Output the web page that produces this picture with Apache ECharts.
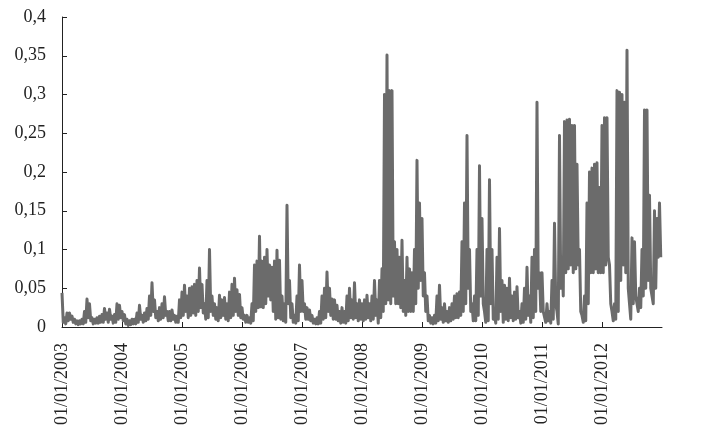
<!DOCTYPE html>
<html>
<head>
<meta charset="utf-8">
<script src="https://cdn.jsdelivr.net/npm/echarts@6/dist/echarts.min.js"></script>
<style>
  html, body { margin: 0; padding: 0; background: #fff; }
  #main { width: 703px; height: 436px; }
</style>
</head>
<body>
<div id="main"></div>
<script>
// half-monthly high / low readings, 24 per year
const years = [2003, 2004, 2005, 2006, 2007, 2008, 2009, 2010, 2011, 2012];

const hi2003 = [0.044, 0.012, 0.018, 0.018, 0.014, 0.01, 0.008, 0.008, 0.01, 0.02, 0.036, 0.03,
                0.012, 0.01, 0.012, 0.014, 0.016, 0.024, 0.018, 0.023, 0.014, 0.016, 0.03, 0.028];
const lo2003 = [0.006, 0.004, 0.008, 0.01, 0.006, 0.004, 0.003, 0.004, 0.004, 0.006, 0.012, 0.008,
                0.004, 0.005, 0.005, 0.006, 0.006, 0.01, 0.006, 0.01, 0.005, 0.006, 0.01, 0.012];
const hi2004 = [0.02, 0.016, 0.01, 0.008, 0.01, 0.01, 0.018, 0.028, 0.015, 0.018, 0.024, 0.04,
                0.057, 0.035, 0.02, 0.025, 0.03, 0.039, 0.02, 0.02, 0.022, 0.015, 0.014, 0.035];
const lo2004 = [0.008, 0.004, 0.002, 0.003, 0.004, 0.004, 0.006, 0.01, 0.006, 0.008, 0.01, 0.015,
                0.02, 0.012, 0.008, 0.01, 0.012, 0.015, 0.008, 0.008, 0.01, 0.006, 0.006, 0.012];
const hi2005 = [0.045, 0.054, 0.04, 0.05, 0.052, 0.055, 0.06, 0.076, 0.055, 0.03, 0.06, 0.1,
                0.04, 0.03, 0.025, 0.041, 0.035, 0.038, 0.03, 0.045, 0.055, 0.063, 0.048, 0.042];
const lo2005 = [0.015, 0.02, 0.012, 0.015, 0.018, 0.015, 0.02, 0.025, 0.018, 0.01, 0.012, 0.02,
                0.015, 0.01, 0.008, 0.012, 0.015, 0.01, 0.008, 0.012, 0.015, 0.02, 0.015, 0.012];
const hi2006 = [0.025, 0.015, 0.015, 0.012, 0.03, 0.08, 0.085, 0.117, 0.085, 0.09, 0.1, 0.08,
                0.077, 0.085, 0.099, 0.086, 0.04, 0.03, 0.157, 0.06, 0.03, 0.015, 0.04, 0.08];
const lo2006 = [0.01, 0.006, 0.006, 0.005, 0.008, 0.02, 0.025, 0.026, 0.025, 0.03, 0.04, 0.035,
                0.02, 0.01, 0.012, 0.01, 0.008, 0.006, 0.03, 0.012, 0.006, 0.005, 0.008, 0.02];
const hi2007 = [0.06, 0.03, 0.025, 0.022, 0.015, 0.01, 0.012, 0.02, 0.04, 0.05, 0.071, 0.05,
                0.036, 0.035, 0.028, 0.02, 0.025, 0.02, 0.04, 0.05, 0.035, 0.057, 0.03, 0.035];
const lo2007 = [0.02, 0.01, 0.01, 0.008, 0.005, 0.004, 0.004, 0.005, 0.01, 0.012, 0.02, 0.015,
                0.01, 0.01, 0.008, 0.005, 0.006, 0.005, 0.008, 0.012, 0.01, 0.012, 0.008, 0.01];
const hi2008 = [0.03, 0.035, 0.041, 0.03, 0.04, 0.06, 0.035, 0.06, 0.075, 0.3, 0.351, 0.305,
                0.305, 0.11, 0.1, 0.09, 0.112, 0.06, 0.09, 0.075, 0.07, 0.1, 0.215, 0.16];
const lo2008 = [0.008, 0.01, 0.012, 0.008, 0.01, 0.015, 0.005, 0.012, 0.02, 0.03, 0.035, 0.03,
                0.04, 0.03, 0.03, 0.025, 0.02, 0.015, 0.02, 0.02, 0.02, 0.03, 0.05, 0.06];
const hi2009 = [0.14, 0.07, 0.04, 0.015, 0.012, 0.015, 0.04, 0.054, 0.025, 0.03, 0.02, 0.025,
                0.03, 0.04, 0.043, 0.045, 0.11, 0.16, 0.247, 0.1, 0.03, 0.04, 0.1, 0.208];
const lo2009 = [0.04, 0.02, 0.008, 0.005, 0.004, 0.005, 0.008, 0.01, 0.006, 0.008, 0.006, 0.008,
                0.01, 0.012, 0.012, 0.015, 0.02, 0.03, 0.05, 0.02, 0.008, 0.008, 0.015, 0.04];
const hi2010 = [0.14, 0.02, 0.1, 0.19, 0.1, 0.015, 0.09, 0.127, 0.06, 0.054, 0.05, 0.063,
                0.04, 0.045, 0.052, 0.02, 0.03, 0.05, 0.077, 0.04, 0.09, 0.1, 0.29, 0.07];
const lo2010 = [0.03, 0.006, 0.008, 0.03, 0.01, 0.005, 0.01, 0.02, 0.006, 0.01, 0.008, 0.012,
                0.008, 0.01, 0.012, 0.005, 0.006, 0.01, 0.015, 0.006, 0.012, 0.02, 0.05, 0.02];
const hi2011 = [0.07, 0.02, 0.03, 0.02, 0.06, 0.134, 0.02, 0.247, 0.09, 0.265, 0.267, 0.268,
                0.26, 0.26, 0.21, 0.1, 0.015, 0.04, 0.16, 0.2, 0.205, 0.21, 0.212, 0.18];
const lo2011 = [0.02, 0.006, 0.008, 0.005, 0.01, 0.03, 0.004, 0.05, 0.04, 0.07, 0.075, 0.08,
                0.07, 0.075, 0.08, 0.02, 0.006, 0.008, 0.03, 0.07, 0.07, 0.075, 0.07, 0.07];
const hi2012 = [0.26, 0.27, 0.27, 0.08, 0.02, 0.03, 0.305, 0.303, 0.3, 0.29, 0.357, 0.05,
                0.115, 0.11, 0.04, 0.05, 0.1, 0.28, 0.28, 0.17, 0.05, 0.15, 0.14, 0.16];
const lo2012 = [0.07, 0.08, 0.09, 0.03, 0.008, 0.01, 0.02, 0.06, 0.08, 0.07, 0.05, 0.01,
                0.03, 0.04, 0.02, 0.025, 0.04, 0.05, 0.06, 0.05, 0.03, 0.05, 0.09, 0.09];

const highs = [hi2003, hi2004, hi2005, hi2006, hi2007, hi2008, hi2009, hi2010, hi2011, hi2012];
const lows = [lo2003, lo2004, lo2005, lo2006, lo2007, lo2008, lo2009, lo2010, lo2011, lo2012];

// the source series is daily, so the line swings between each period's high and low
const series = [];
years.forEach((y, k) => {
  highs[k].forEach((h, i) => {
    series.push([y + i / 24, h]);
    series.push([y + (i + 0.5) / 24, lows[k][i]]);
  });
});

const chart = echarts.init(document.getElementById('main'));
const font = '"Liberation Serif", "Times New Roman", serif';

chart.setOption({
  animation: false,
  backgroundColor: '#fff',
  grid: { left: 62, right: 41, top: 17, bottom: 109, containLabel: false },
  xAxis: {
    type: 'value',
    min: 2003,
    max: 2013,
    interval: 1,
    axisLine: { lineStyle: { color: '#222', width: 1 } },
    axisTick: { show: true, inside: true, length: 5, lineStyle: { color: '#222' } },
    splitLine: { show: false },
    axisLabel: {
      rotate: 90,
      margin: 16,
      color: '#222',
      fontFamily: font,
      fontSize: 18,
      showMaxLabel: false,
      formatter: v => (v < 2013 ? '01/01/' + v : '')
    }
  },
  yAxis: {
    type: 'value',
    min: 0,
    max: 0.4,
    interval: 0.05,
    axisLine: { show: true, lineStyle: { color: '#222', width: 1 } },
    axisTick: { show: true, inside: true, length: 5, lineStyle: { color: '#222' } },
    splitLine: { show: false },
    axisLabel: {
      margin: 16,
      color: '#222',
      fontFamily: font,
      fontSize: 18,
      formatter: v => String(+v.toFixed(2)).replace('.', ',')
    }
  },
  series: [{
    type: 'line',
    data: series,
    symbol: 'none',
    lineStyle: { color: '#6b6b6b', width: 3, join: 'round' },
    clip: true
  }]
});
</script>
</body>
</html>
